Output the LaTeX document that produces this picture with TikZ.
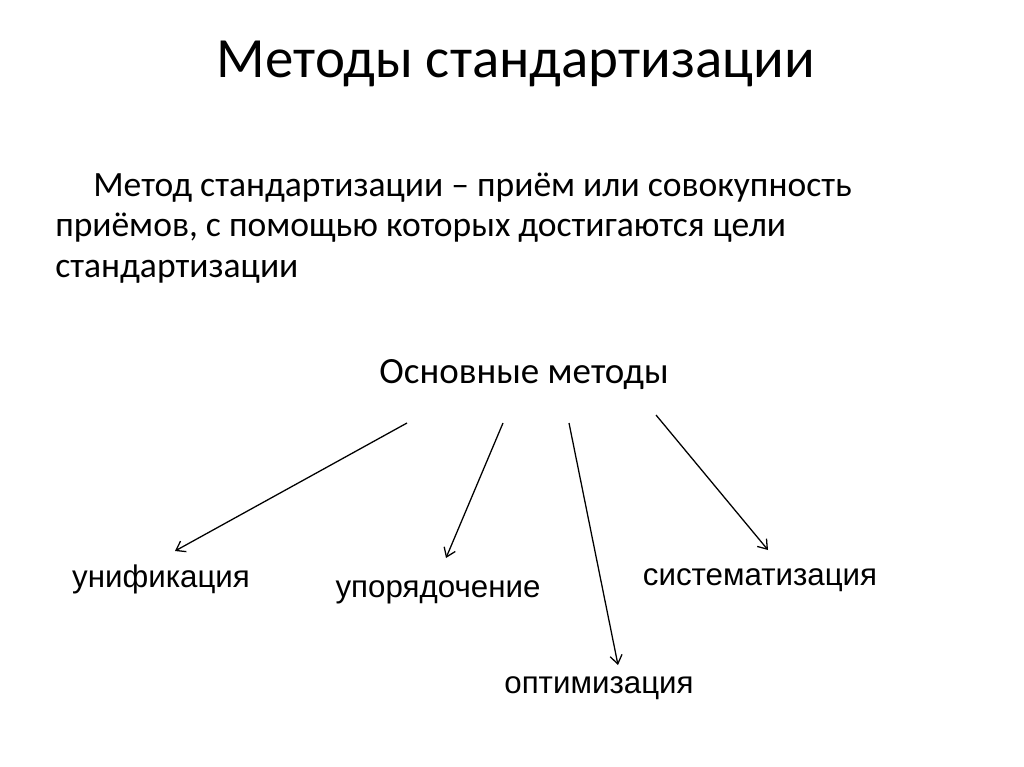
\documentclass[tikz,border=0pt]{standalone}
\usepackage{fontspec}
\setmainfont{Carlito}
\newfontfamily\arialf{Liberation Sans}
\usetikzlibrary{arrows.meta}
\begin{document}
\begin{tikzpicture}[x=0.703125pt,y=-0.703125pt,
  title/.style={font=\fontsize{40}{48}\selectfont,anchor=base,inner sep=0},
  body/.style={font=\fontsize{25}{30}\selectfont,anchor=base west,inner sep=0},
  head/.style={font=\fontsize{26}{31}\selectfont,anchor=base,inner sep=0},
  lbl/.style={font=\arialf\fontsize{22}{26}\selectfont,anchor=base,inner sep=0},
  arr/.style={-{Straight Barb[length=6pt,width=8.5pt,line width=0.9pt]},line width=0.9pt}]
\useasboundingbox (0,0) rectangle (1024,767);
\node[title] (t) at (516,78) {Методы стандартизации};
\node[body] (b1) at (93,197) {Метод стандартизации – приём или совокупность};
\node[body] (b2) at (55,237) {приёмов, с помощью которых достигаются цели};
\node[body] (b3) at (55,277) {стандартизации};
\node[head] (h) at (524,383) {Основные методы};
\node[lbl] (u) at (161,587) {унификация};
\node[lbl] (p) at (438,597) {упорядочение};
\node[lbl] (s) at (760,585) {систематизация};
\node[lbl] (o) at (599,693) {оптимизация};
\coordinate (s1) at (407,423); \coordinate (e1) at (175,551);
\coordinate (s2) at (503,423); \coordinate (e2) at (446,558);
\coordinate (s3) at (569,423); \coordinate (e3) at (618,665);
\coordinate (s4) at (656,415); \coordinate (e4) at (768,550);
\draw[arr] (s1) -- (e1);
\draw[arr] (s2) -- (e2);
\draw[arr] (s3) -- (e3);
\draw[arr] (s4) -- (e4);
\end{tikzpicture}
\end{document}
